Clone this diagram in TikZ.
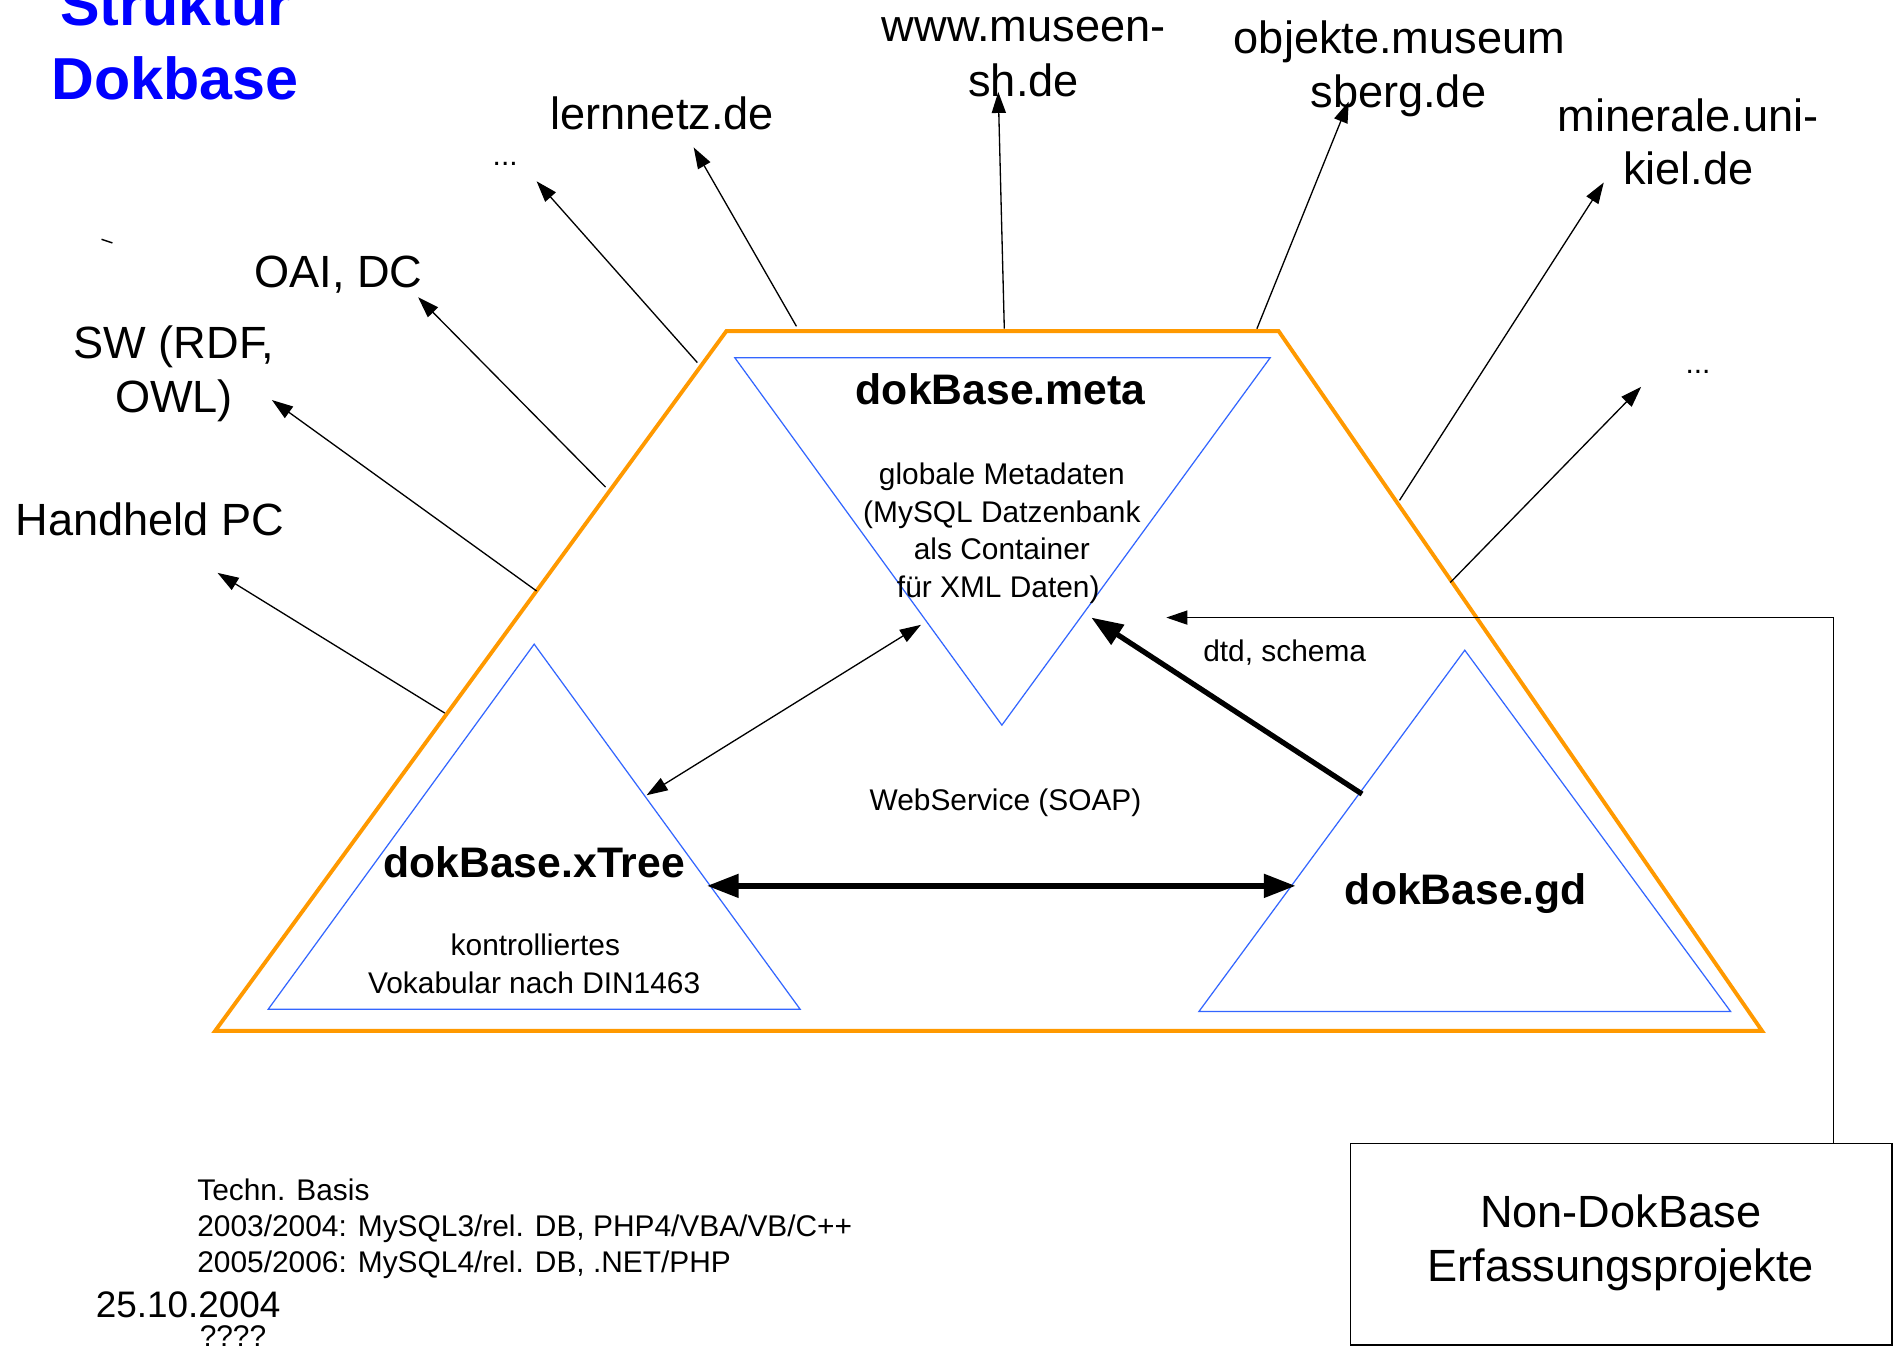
\documentclass[tikz,border=0pt]{standalone}
\usepackage{fontspec}
\setmainfont{Liberation Sans}
\usetikzlibrary{arrows.meta}
\definecolor{orng}{HTML}{FF9900}
\definecolor{triblue}{HTML}{3366FF}
\definecolor{titleblue}{HTML}{0000FF}
\begin{document}
\begin{tikzpicture}[x=0.024172cm,y=-0.024172cm,
  big/.style={font=\fontsize{25.7}{30}\selectfont,inner sep=0pt,anchor=base},
  small/.style={font=\fontsize{17}{21}\selectfont,inner sep=0pt,anchor=base},
  dok/.style={font=\bfseries\fontsize{24.3}{29}\selectfont,inner sep=0pt,anchor=base},
  ttl/.style={font=\bfseries\fontsize{33.7}{40}\selectfont,text=titleblue,inner sep=0pt,anchor=base},
  trap/.style={draw=orng,line width=2.2pt,line join=miter},
  tri/.style={draw=triblue,line width=0.7pt},
  outarr/.style={line width=0.75pt,-{Triangle[length=12pt,width=8pt]}},
  dblthin/.style={line width=0.75pt,{Triangle[length=12pt,width=8pt]}-{Triangle[length=12pt,width=8pt]}},
  dblthick/.style={line width=3pt,{Triangle[length=18pt,width=13pt]}-{Triangle[length=18pt,width=13pt]}},
  thickarr/.style={line width=3pt,-{Triangle[length=18pt,width=13pt]}}
]
\useasboundingbox (0,0) rectangle (1568,1115);
\fill[white] (0,0) rectangle (1568,1115);

% title
\node[ttl] (t1) at (145,21) {Struktur};
\node[ttl] (t2) at (145,82) {Dokbase};

% main shapes
\draw[trap] (601,274) -- (1058,274) -- (1458,853) -- (178,853) -- cycle;
\draw[tri] (608,296) -- (1051,296) -- (829,600) -- cycle;
\draw[tri] (442,533) -- (662,835) -- (222,835) -- cycle;
\draw[tri] (1212,538) -- (1432,837) -- (992,837) -- cycle;

% outer labels
\node[big] (hh) at (124,443) {Handheld PC};
\node[big] (sw1) at (144,297) {SW (RDF,};
\node[big] (sw2) at (144,341) {OWL)};
\node[big] (oai) at (280,238) {OAI, DC};
\node[small] (dl) at (418,137) {...};
\node[big] (lern) at (548,107) {lernnetz.de};
\node[big] (mus1) at (847,34) {www.museen-};
\node[big] (mus2) at (847,80) {sh.de};
\node[big] (obj1) at (1158,44) {objekte.museum};
\node[big] (obj2) at (1157,89) {sberg.de};
\node[big] (min1) at (1397,109) {minerale.uni-};
\node[big] (min2) at (1397,153) {kiel.de};
\node[small] (dr) at (1405,309) {...};

\draw[line width=0.8pt] (84,198) -- (93,201);

% outgoing arrows
\coordinate (s1) at (368,590); \coordinate (e1) at (180,474);
\coordinate (s2) at (444,489); \coordinate (e2) at (225,331);
\coordinate (s3) at (501,403); \coordinate (e3) at (346,246);
\coordinate (s4) at (577,300); \coordinate (e4) at (444,150);
\coordinate (s5) at (659,270); \coordinate (e5) at (574,122);
\coordinate (s6) at (831,272); \coordinate (e6) at (826,76);
\coordinate (s7) at (1040,272); \coordinate (e7) at (1116,84);
\coordinate (s8) at (1158,414); \coordinate (e8) at (1327,151);
\coordinate (s9) at (1200,482); \coordinate (e9) at (1358,320);
\foreach \i in {1,...,9} \draw[outarr] (s\i) -- (e\i);

% inner texts
\node[dok] (meta) at (828,335) {dokBase.meta};
\node[small] (m1) at (829,401) {globale Metadaten};
\node[small] (m2) at (829,432) {(MySQL Datzenbank};
\node[small] (m3) at (829,463) {als Container};
\node[small] (m4) at (826,494) {für XML Daten)};
\node[small] (dtd) at (1063,547) {dtd, schema};
\node[small] (ws) at (832,671) {WebService (SOAP)};
\node[dok] (xtree) at (442,726) {dokBase.xTree};
\node[small] (x1) at (443,791) {kontrolliertes};
\node[small] (x2) at (442,822) {Vokabular nach DIN1463};
\node[dok] (gd) at (1213,748) {dokBase.gd};

% inner arrows
\coordinate (am) at (762,517); \coordinate (ax) at (535,658);
\draw[dblthin] (ax) -- (am);
\coordinate (bx) at (585,733); \coordinate (bg) at (1072,733);
\draw[dblthick] (bx) -- (bg);
\coordinate (cg) at (1127,657); \coordinate (cm) at (903,511);
\draw[thickarr] (cg) -- (cm);

% Non-DokBase box
\node[draw=black,line width=0.8pt,minimum width=10.83cm,minimum height=4.037cm,inner sep=0pt] (nd) at (1341.5,1029.5) {};
\node[big] (nd1) at (1341,1016) {Non-DokBase};
\node[big] (nd2) at (1341,1060) {Erfassungsprojekte};
\coordinate (ndtop) at (1517,946); \coordinate (dtdtip) at (965,511);
\draw[outarr] (ndtop) |- (dtdtip);

% bottom texts
\node[small,anchor=base west] (tb1) at (163,993) {Techn. Basis};
\node[small,anchor=base west] (tb2) at (163,1023) {2003/2004: MySQL3/rel. DB, PHP4/VBA/VB/C++};
\node[small,anchor=base west] (tb3) at (163,1053) {2005/2006: MySQL4/rel. DB, .NET/PHP};
\node[inner sep=0pt,anchor=base west,font=\fontsize{21}{25}\selectfont] (date) at (79,1090) {25.10.2004};
\node[small,anchor=base west] (qq) at (165,1114) {????};
\end{tikzpicture}
\end{document}
